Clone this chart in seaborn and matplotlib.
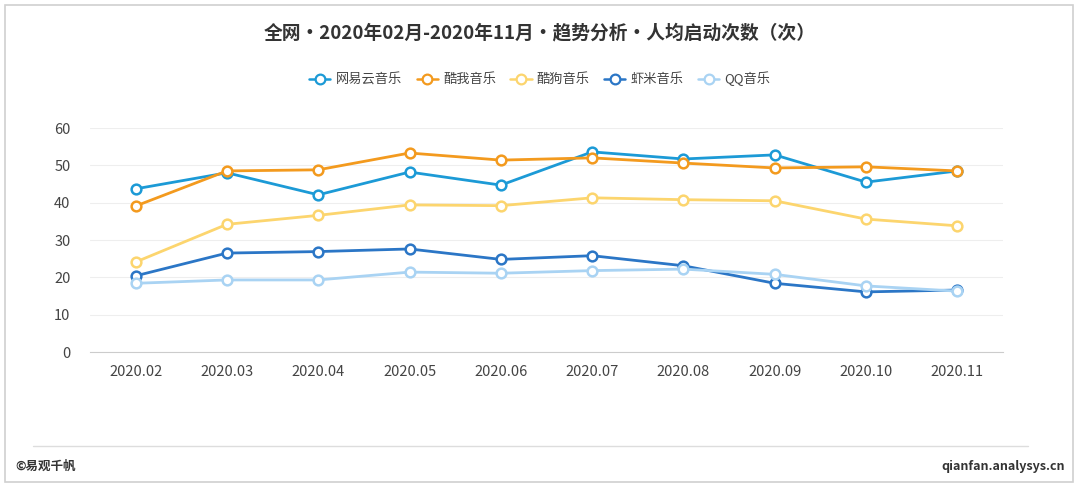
import pandas as pd
import seaborn as sb
import matplotlib.pyplot as plt
from matplotlib.lines import Line2D
from matplotlib.patches import Rectangle

# values (人均启动次数)
months = ["2020.02", "2020.03", "2020.04", "2020.05", "2020.06",
          "2020.07", "2020.08", "2020.09", "2020.10", "2020.11"]
apps = ["网易云音乐", "酷我音乐", "酷狗音乐", "虾米音乐", "QQ音乐"]
netease = [43.7, 48.0, 42.1, 48.2, 44.7, 53.6, 51.7, 52.8, 45.5, 48.5]
kuwo = [39.1, 48.5, 48.8, 53.3, 51.4, 52.0, 50.6, 49.3, 49.6, 48.5]
kugou = [24.1, 34.2, 36.6, 39.4, 39.2, 41.3, 40.8, 40.5, 35.6, 33.8]
xiami = [20.4, 26.5, 26.9, 27.6, 24.8, 25.8, 23.1, 18.4, 16.1, 16.6]
qq = [18.4, 19.3, 19.3, 21.4, 21.1, 21.8, 22.2, 20.8, 17.7, 16.3]
colors = ["#1c9ad6", "#f39a1e", "#fcd56e", "#2b76c6", "#a9d3f3"]

sb.set_style("white")
plt.rcParams["font.family"] = ["Noto Sans CJK SC", "DejaVu Sans"]

rows = []
for app, vals in zip(apps, [netease, kuwo, kugou, xiami, qq]):
    for m, v in zip(months, vals):
        rows.append({"月份": m, "应用": app, "次数": v})
df = pd.DataFrame(rows)
df["pos"] = df["月份"].map({m: i for i, m in enumerate(months)})

fig = plt.figure(figsize=(10.8, 4.86), dpi=100)
ax = fig.add_axes([90 / 1080, 1 - 352 / 486, 913 / 1080, 224 / 486])

sb.lineplot(data=df, x="pos", y="次数", hue="应用", hue_order=apps,
            palette=colors, ax=ax, legend=False,
            marker="o", markersize=7, markerfacecolor="white",
            linewidth=2.0, clip_on=False)
# seaborn paints marker edges white, give them the line colour back
for ln in ax.lines:
    ln.set_markeredgecolor(ln.get_color())
    ln.set_markeredgewidth(1.8)

ax.set_xlim(-0.5, len(months) - 0.5)
ax.set_ylim(0, 60)
ax.set_yticks(range(0, 61, 10))
ax.set_xticks(range(len(months)))
ax.set_xticklabels(months)
ax.set_xticks([i - 0.5 for i in range(len(months) + 1)], minor=True)
ax.tick_params(axis="x", which="major", length=0, pad=9, labelsize=10.5, labelcolor="#444444")
ax.tick_params(axis="x", which="minor", length=4, color="#cccccc", direction="out")
ax.tick_params(axis="y", length=0, pad=14, labelsize=10.5, labelcolor="#444444")
ax.set_xlabel("")
ax.set_ylabel("")
ax.grid(axis="y", color="#eeeeee", linewidth=0.8)
for s in ["top", "right", "left"]:
    ax.spines[s].set_visible(False)
ax.spines["bottom"].set_color("#cccccc")

handles = [Line2D([0], [0], color=c, lw=1.8, marker="o", markersize=7,
                  markerfacecolor="white", markeredgewidth=1.6) for c in colors]
fig.legend(handles, apps, loc="center", bbox_to_anchor=(0.5, 1 - 79 / 486), ncol=5,
           frameon=False, fontsize=9.5, handlelength=1.6, handletextpad=0.4,
           columnspacing=1.1, labelcolor="#444444")

fig.text(0.5, 1 - 33 / 486, "全网•2020年02月-2020年11月•趋势分析•人均启动次数（次）",
         ha="center", va="center", fontsize=13.5, fontweight="bold", color="#333333")

# outer frame and footer
fig.patches.append(Rectangle((5 / 1080, 1 - 482 / 486), 1068 / 1080, 477 / 486,
                             transform=fig.transFigure, fill=False,
                             edgecolor="#d0d0d0", linewidth=1.2))
fig.add_artist(Line2D([33 / 1080, 1028 / 1080], [1 - 446 / 486] * 2,
                      transform=fig.transFigure, color="#dddddd", lw=1))
fig.text(15 / 1080, 1 - 466 / 486, "©易观千帆", ha="left", va="center",
         fontsize=9, fontweight="bold", color="#333333")
fig.text(1065 / 1080, 1 - 466 / 486, "qianfan.analysys.cn", ha="right", va="center",
         fontsize=9, fontweight="bold", color="#333333")

fig.savefig("out.png", dpi=100, facecolor="white")
